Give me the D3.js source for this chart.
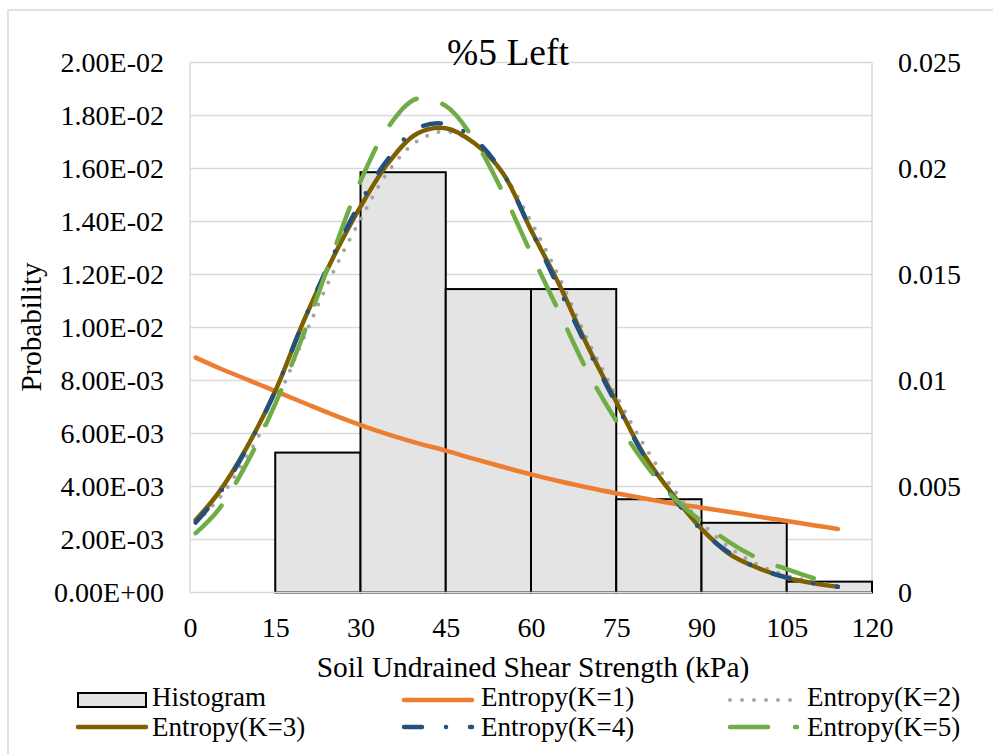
<!DOCTYPE html>
<html><head><meta charset="utf-8">
<script src="https://cdn.jsdelivr.net/npm/d3@7"></script>
<style>body{margin:0;background:#fff}svg{display:block}</style>
</head><body><div id="chart"></div>
<script>
// ---------- data ----------
const binStarts = [15, 30, 45, 60, 75, 90, 105];
const binWidth = 15;
const histValues = [0.00528, 0.01586, 0.01145, 0.01145, 0.00352, 0.00263, 0.00041];

const curveX = [1, 5, 10, 15, 20, 25, 30, 35, 40, 45, 50, 55, 60, 65, 70, 75, 80, 85, 90, 95, 100, 105, 110, 114];
// values on secondary (right) axis, x 1e-3
const k1 = [11.08, 10.6, 10.05, 9.5, 8.95, 8.4, 7.9, 7.45, 7.05, 6.69, 6.3, 5.93, 5.57, 5.25, 4.95, 4.68, 4.43, 4.2, 4.0, 3.8, 3.58, 3.37, 3.16, 3.0];
const k2 = [3.3, 4.4, 6.4, 8.9, 12.0, 15.0, 17.6, 19.9, 21.3, 21.75, 21.2, 19.8, 17.5, 14.85, 11.9, 9.3, 6.9, 4.9, 3.3, 2.1, 1.3, 0.8, 0.48, 0.3];
const k3 = [3.42, 4.7, 6.85, 9.5, 12.8, 15.7, 18.2, 20.3, 21.65, 21.9, 21.2, 19.8, 17.1, 14.5, 11.6, 9.0, 6.45, 4.6, 3.0, 1.8, 1.15, 0.7, 0.42, 0.27];
const k4 = [3.3, 4.6, 6.8, 9.5, 12.8, 15.8, 18.4, 20.5, 21.9, 22.1, 21.4, 19.8, 17.1, 14.3, 11.5, 8.9, 6.4, 4.5, 2.95, 1.85, 1.15, 0.7, 0.42, 0.27];
const k5 = [2.8, 3.9, 6.1, 8.9, 12.2, 15.9, 19.4, 22.0, 23.3, 22.95, 21.35, 18.9, 16.0, 13.2, 10.4, 8.1, 6.1, 4.5, 3.35, 2.35, 1.6, 1.1, 0.65, 0.35];

const xTicks = [0, 15, 30, 45, 60, 75, 90, 105, 120];
const leftTicks = [0, 0.002, 0.004, 0.006, 0.008, 0.01, 0.012, 0.014, 0.016, 0.018, 0.02];
const leftTickLabels = ["0.00E+00","2.00E-03","4.00E-03","6.00E-03","8.00E-03","1.00E-02","1.20E-02","1.40E-02","1.60E-02","1.80E-02","2.00E-02"];
const rightTicks = [0, 0.005, 0.01, 0.015, 0.02, 0.025];
const rightTickLabels = ["0","0.005","0.01","0.015","0.02","0.025"];

const seriesNames = ["Entropy(K=1)","Entropy(K=2)","Entropy(K=3)","Entropy(K=4)","Entropy(K=5)"];
const seriesData = [k1, k2, k3, k4, k5];

// ---------- styles ----------
const FONT = '"Liberation Serif","Times New Roman",serif';
const styles = [
  {color:"#ed7d31", width:4.5, dash:null},
  {color:"#a5a5a5", width:4, dash:"0 12"},
  {color:"#7f6000", width:4.5, dash:null},
  {color:"#23507f", width:4.5, dash:"18 24 0 24"},
  {color:"#70ad47", width:4.5, dash:"38 27"}
];

const W = 993, H = 754;
const svg = d3.select("#chart").append("svg").attr("width", W).attr("height", H)
  .attr("font-family", FONT).style("font-family", FONT);
svg.append("rect").attr("width", W).attr("height", H).attr("fill", "#fff");
svg.append("rect").attr("x", 8).attr("y", 10).attr("width", 1000).attr("height", 800)
  .attr("fill", "none").attr("stroke", "#d9d9d9").attr("stroke-width", 1.5);

const x = d3.scaleLinear().domain([0, 120]).range([190, 872]);
const yL = d3.scaleLinear().domain([0, 0.02]).range([592.5, 62.5]);
const yR = d3.scaleLinear().domain([0, 0.025]).range([592.5, 62.5]);

// gridlines
svg.append("g").selectAll("line").data(leftTicks.slice(1)).join("line")
  .attr("x1", x(0)).attr("x2", x(120)).attr("y1", d => yL(d)).attr("y2", d => yL(d))
  .attr("stroke", "#d9d9d9").attr("stroke-width", 1.5);
svg.append("line").attr("x1", x(0)).attr("x2", x(0)).attr("y1", yL(0)).attr("y2", yL(0.02))
  .attr("stroke", "#d9d9d9").attr("stroke-width", 1.5);
svg.append("line").attr("x1", x(120)).attr("x2", x(120)).attr("y1", yL(0)).attr("y2", yL(0.02))
  .attr("stroke", "#d9d9d9").attr("stroke-width", 1.5);

// histogram
svg.append("g").selectAll("rect").data(binStarts).join("rect")
  .attr("x", d => x(d)).attr("width", d => x(d + binWidth) - x(d))
  .attr("y", (d, i) => yL(histValues[i])).attr("height", (d, i) => yL(0) - yL(histValues[i]))
  .attr("fill", "#e4e4e4").attr("stroke", "#000").attr("stroke-width", 2);

// x axis line
svg.append("line").attr("x1", x(0)).attr("x2", x(120)).attr("y1", yL(0)).attr("y2", yL(0))
  .attr("stroke", "#d9d9d9").attr("stroke-width", 1.5);

// curves
const line = d3.line().x((d) => x(d[0])).y(d => yR(d[1] / 1000)).curve(d3.curveCatmullRom.alpha(0.5));
seriesData.forEach((s, i) => {
  const pts = curveX.map((xv, j) => [xv, s[j]]);
  const p = svg.append("path").attr("d", line(pts)).attr("fill", "none")
    .attr("stroke", styles[i].color).attr("stroke-width", styles[i].width)
    .attr("stroke-linecap", "round").attr("stroke-linejoin", "round");
  if (styles[i].dash) p.attr("stroke-dasharray", styles[i].dash);
});

// axes
const fs = 28;
const gL = svg.append("g").attr("transform", `translate(${x(0)},0)`)
  .call(d3.axisLeft(yL).tickValues(leftTicks).tickFormat((d, i) => leftTickLabels[i]).tickSize(0).tickPadding(26));
const gR = svg.append("g").attr("transform", `translate(${x(120)},0)`)
  .call(d3.axisRight(yR).tickValues(rightTicks).tickFormat((d, i) => rightTickLabels[i]).tickSize(0).tickPadding(26));
const gB = svg.append("g").attr("transform", `translate(0,${yL(0)})`)
  .call(d3.axisBottom(x).tickValues(xTicks).tickFormat(d => String(d)).tickSize(0).tickPadding(25));
[gL, gR, gB].forEach(g => {
  g.attr("font-family", FONT).attr("font-size", fs);
  g.select(".domain").remove();
  g.selectAll("text").style("font-family", FONT).style("font-size", fs + "px").attr("fill", "#000");
});

function txt(sel, size) { return sel.style("font-family", FONT).style("font-size", size + "px").attr("fill", "#000"); }

// titles
txt(svg.append("text").attr("x", 508).attr("y", 65).attr("text-anchor", "middle"), 37.5).text("%5 Left");
txt(svg.append("text").attr("x", 533).attr("y", 677).attr("text-anchor", "middle"), 29.5)
  .text("Soil Undrained Shear Strength (kPa)");
txt(svg.append("text").attr("transform", "translate(41,327) rotate(-90)").attr("text-anchor", "middle"), 29)
  .text("Probability");

// legend
const legFs = 27;
const leg = svg.append("g");
leg.append("rect").attr("x", 78).attr("y", 693).attr("width", 68).attr("height", 14)
  .attr("fill", "#e4e4e4").attr("stroke", "#000").attr("stroke-width", 2);
txt(leg.append("text").attr("x", 152).attr("y", 706), legFs).text("Histogram");
const legPos = [
  {x1:404, x2:472, tx:481, y:700, ty:706},
  {x1:730, x2:797, tx:807, y:700, ty:706},
  {x1:78, x2:146, tx:152, y:727, ty:736},
  {x1:404, x2:472, tx:481, y:727, ty:736},
  {x1:730, x2:797, tx:807, y:727, ty:736}
];
seriesNames.forEach((n, i) => {
  const p = legPos[i];
  const l = leg.append("line").attr("x1", p.x1).attr("x2", p.x2).attr("y1", p.y).attr("y2", p.y)
    .attr("stroke", styles[i].color).attr("stroke-width", styles[i].width).attr("stroke-linecap", "round");
  if (styles[i].dash) l.attr("stroke-dasharray", styles[i].dash);
  txt(leg.append("text").attr("x", p.tx).attr("y", p.ty), legFs).text(n);
});
</script></body></html>
